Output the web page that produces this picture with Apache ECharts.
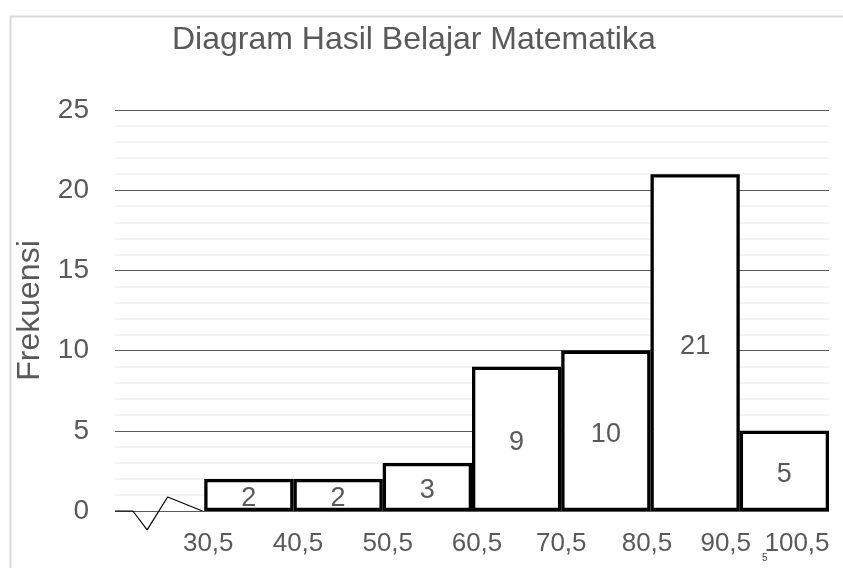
<!DOCTYPE html>
<html>
<head>
<meta charset="utf-8">
<script src="https://cdn.jsdelivr.net/npm/echarts@6/dist/echarts.min.js"></script>
<style>
html,body{margin:0;padding:0;background:#fff;}
#c{width:843px;height:568px;}
</style>
</head>
<body>
<div id="c"></div>
<script>
// ---- data ----
const classNames = ['', '31–40', '41–50', '51–60', '61–70', '71–80', '81–90', '91–100'];
const frequencies = [null, 2, 2, 3, 9, 10, 21, 5];
const boundaryLabels = ['', '30,5', '40,5', '50,5', '60,5', '70,5', '80,5', '90,5', '100,5'];
const yTicks = [0, 5, 10, 15, 20, 25];
// axis-break zigzag, in (class index, frequency) units
const breakX = [0, 0.2, 0.36, 0.59, 0.98];
const breakY = [0, 0, -1.18, 0.87, 0];

const textColor = '#595959';
const shifts = {1: [0,0,0,8], 2: [0,0,0,9], 3: [0,0,0,10], 4: [0,0,0,10], 5: [0,0,0,0], 6: [0,7,0,0], 7: [0,28,0,0], 8: [0,64,0,0]};
const rich = {};
Object.keys(shifts).forEach(k => { rich['s' + k] = {padding: shifts[k], fontSize: 26, color: textColor, fontFamily: 'Liberation Sans, Arial, sans-serif'}; });

const chart = echarts.init(document.getElementById('c'), null, {renderer: 'canvas'});
chart.setOption({
  animation: false,
  backgroundColor: '#fff',
  textStyle: {fontFamily: 'Liberation Sans, Arial, sans-serif'},
  title: {
    text: 'Diagram Hasil Belajar Matematika',
    left: 167, top: 19,
    textStyle: {fontSize: 32, fontWeight: 'normal', color: textColor}
  },
  graphic: [
    {type: 'rect', left: 8, top: 14, shape: {width: 900, height: 600}, style: {fill: 'none', stroke: '#d9d9d9', lineWidth: 2}, z: -10},
    {type: 'text', left: 762, top: 553, style: {text: '5', fontSize: 10, fill: '#404040', fontFamily: 'Liberation Sans, Arial, sans-serif'}}
  ],
  grid: {left: 115, right: 14, top: 110, bottom: 57, containLabel: false, outerBoundsMode: 'none'},
  xAxis: [
    {type: 'category', data: classNames, boundaryGap: true,
     axisLine: {show: false}, axisTick: {show: false}, axisLabel: {show: false}, splitLine: {show: false}},
    {type: 'category', data: boundaryLabels, boundaryGap: false, position: 'bottom',
     axisLine: {show: false}, axisTick: {show: false}, splitLine: {show: false},
     axisLabel: {interval: 0, margin: 20, fontSize: 26, color: textColor,
       formatter: (v, i) => v === '' ? '' : '{s' + i + '|' + v + '}', rich: rich}},
    {type: 'value', min: 0, max: 8, show: false}
  ],
  yAxis: {
    type: 'value', min: 0, max: 25, interval: 5,
    name: 'Frekuensi', nameLocation: 'middle', nameRotate: 90, nameGap: 69,
    nameTextStyle: {fontSize: 32, color: textColor},
    axisLine: {show: false}, axisTick: {show: false},
    axisLabel: {fontSize: 28, color: textColor, margin: 26,
      formatter: v => yTicks.indexOf(v) >= 0 ? String(v) : ''},
    splitLine: {show: true, lineStyle: {color: '#595959', width: 1}},
    minorTick: {show: false, splitNumber: 5},
    minorSplitLine: {show: true, lineStyle: {color: '#f2f2f2', width: 2}}
  },
  series: [
    {type: 'bar', xAxisIndex: 0, data: frequencies, barCategoryGap: '0%', barGap: '0%',
     itemStyle: {color: '#ffffff', borderColor: '#000000', borderWidth: 3.3},
     label: {show: true, position: 'inside', offset: [0, 4], fontSize: 27, color: textColor}, z: 3},
    {type: 'line', xAxisIndex: 2, data: breakX.map((x, i) => [x, breakY[i]]),
     symbol: 'none', clip: false, lineStyle: {color: '#000', width: 1.2}, z: 4}
  ]
});
</script>
</body>
</html>
